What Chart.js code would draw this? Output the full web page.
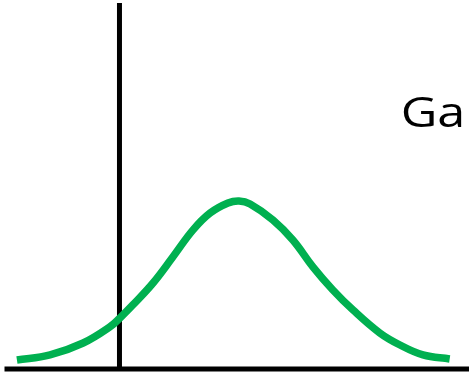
<!DOCTYPE html>
<html>
<head>
<meta charset="utf-8">
<script src="https://cdn.jsdelivr.net/npm/chart.js@4/dist/chart.umd.min.js"></script>
<style>
html,body{margin:0;padding:0;background:#fff;}
#wrap{position:relative;width:469px;height:375px;}
</style>
</head>
<body>
<div id="wrap"><canvas id="c"></canvas></div>
<script>
// Curve samples (x: distance from the vertical axis, y: height above the horizontal axis)
const curveX = [-2.23, -1.51, -0.79, -0.21, 0.01, 0.29, 0.73, 1.16, 1.60, 1.97, 2.36, 2.60, 2.84, 3.34, 3.77, 4.21, 4.64, 5.08, 5.66, 6.10, 6.60, 7.18];
const curveY = [0.049, 0.077, 0.142, 0.230, 0.279, 0.350, 0.470, 0.612, 0.760, 0.852, 0.907, 0.918, 0.902, 0.814, 0.705, 0.557, 0.432, 0.322, 0.197, 0.131, 0.077, 0.055];
const xRange = [-2.5, 7.6];
const yRange = [0, 2.0];
const labelText = "Ga";

const points = curveX.map((x, i) => ({x: x, y: curveY[i]}));

const axesLines = {
  id: 'axesLines',
  beforeDatasetsDraw(chart) {
    const {ctx, chartArea, scales} = chart;
    const x0 = scales.x.getPixelForValue(0);
    const y0 = scales.y.getPixelForValue(0);
    ctx.save();
    ctx.strokeStyle = '#000';
    ctx.lineWidth = 5;
    ctx.lineCap = 'butt';
    ctx.beginPath();
    ctx.moveTo(chartArea.left, y0);
    ctx.lineTo(chartArea.right, y0);
    ctx.stroke();
    ctx.beginPath();
    ctx.moveTo(x0, chartArea.top);
    ctx.lineTo(x0, y0);
    ctx.stroke();
    ctx.restore();
  },
  afterDraw(chart) {
    const ctx = chart.ctx;
    ctx.save();
    ctx.fillStyle = '#000';
    ctx.font = '42px "Open Sans"';
    ctx.textBaseline = 'alphabetic';
    ctx.textAlign = 'left';
    ctx.translate(400.7, 127);
    ctx.scale(1.2, 1);
    ctx.fillText(labelText, 0, 0);
    ctx.restore();
  }
};

new Chart(document.getElementById('c'), {
  type: 'line',
  data: {
    datasets: [{
      data: points,
      borderColor: '#00B050',
      borderWidth: 7.5,
      pointRadius: 0,
      tension: 0.4,
      fill: false,
      clip: false
    }]
  },
  options: {
    responsive: true,
    maintainAspectRatio: false,
    animation: false,
    layout: {padding: {left: 4.5, right: 0, top: 3, bottom: 6}},
    plugins: {legend: {display: false}, tooltip: {enabled: false}, title: {display: false}},
    scales: {
      x: {type: 'linear', min: xRange[0], max: xRange[1], display: false},
      y: {type: 'linear', min: yRange[0], max: yRange[1], display: false}
    }
  },
  plugins: [axesLines]
});
</script>
</body>
</html>
